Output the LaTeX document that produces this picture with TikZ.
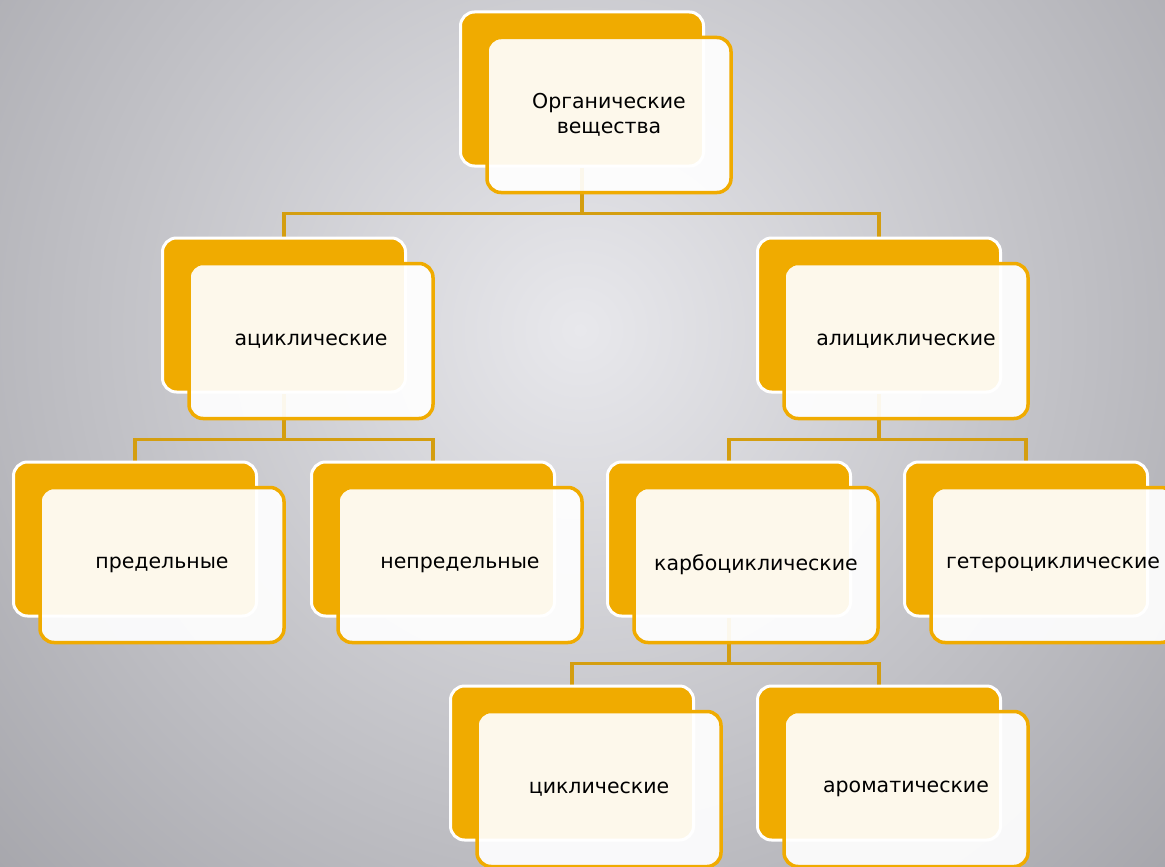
\documentclass[tikz,border=0pt]{standalone}
\usepackage{fontspec}
\setmainfont{DejaVu Sans}
\usetikzlibrary{calc,positioning,backgrounds}
\definecolor{boxorange}{RGB}{240,171,0}
\definecolor{linkorange}{RGB}{212,158,16}
\definecolor{bginner}{RGB}{232,232,236}
\definecolor{bgouter}{RGB}{150,150,156}
\tikzset{
    backbox/.style={draw=white,line width=3pt,fill=boxorange,rounded corners=14pt,
        minimum width=243pt,minimum height=154pt},
    frontbox/.style={draw=boxorange,line width=3.5pt,fill=white,fill opacity=0.92,text opacity=1,
        rounded corners=14pt,minimum width=244pt,minimum height=155pt,align=center,
        font=\fontsize{20.5}{25}\selectfont},
    link/.style={draw=linkorange,line width=3.5pt}
}
\begin{document}
\begin{tikzpicture}[x=1pt,y=-1pt]
\useasboundingbox(0,0)rectangle(1165,867);
\foreach \name/\x/\y/\txt in {top/582/89/{Органические\\вещества},
    acyc/284/315/ациклические, alicyc/879/315/алициклические,
    sat/135/539/предельные, unsat/433/539/непредельные,
    carbo/729/539/карбоциклические, hetero/1026/539/гетероциклические,
    cyc/572/763/циклические, arom/879/763/ароматические}
    {\node[backbox](b\name)at(\x,\y){};
     \node[frontbox](f\name)at([shift={(27,26)}]b\name.center){\txt};
    }

\begin{scope}[on background layer]
\clip(0,0)rectangle(1165,867);
\shade[inner color=bginner,outer color=bgouter](580,330)circle(1000);
\draw[link](btop.south)--++(0,46)-|(bacyc.north);
\draw[link](btop.south)--++(0,46)-|(balicyc.north);
\draw[link](bacyc.south)--++(0,46)-|(bsat.north);
\draw[link](bacyc.south)--++(0,46)-|(bunsat.north);
\draw[link](balicyc.south)--++(0,46)-|(bcarbo.north);
\draw[link](balicyc.south)--++(0,46)-|(bhetero.north);
\draw[link](bcarbo.south)--++(0,46)-|(bcyc.north);
\draw[link](bcarbo.south)--++(0,46)-|(barom.north);
\end{scope}
\end{tikzpicture}
\end{document}
